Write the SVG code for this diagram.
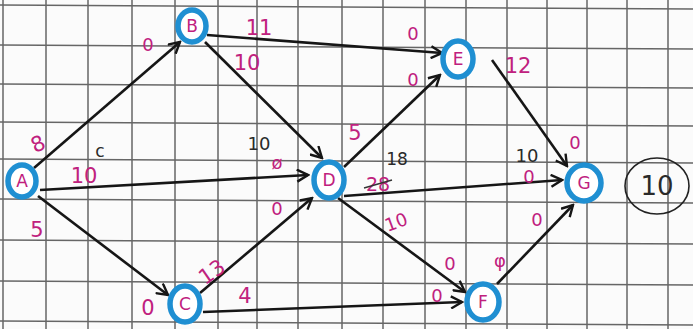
<svg xmlns="http://www.w3.org/2000/svg" width="693" height="329" viewBox="0 0 693 329">
<style>
.grid line{stroke:#666;stroke-width:1.5}
.edge{stroke:#161616;stroke-width:2.6;fill:none;marker-end:url(#ah)}
.node ellipse{fill:#fff;stroke:#1f8fd2;stroke-width:5.5}
.lt{font-family:"DejaVu Sans",sans-serif;font-size:17px;fill:#c0217e;text-anchor:middle;dominant-baseline:central}
.pk{font-family:"DejaVu Sans",sans-serif;font-size:21px;fill:#c0217e;text-anchor:middle;dominant-baseline:central}
.sm{font-size:18px}
.bk{font-family:"DejaVu Sans",sans-serif;font-size:19px;fill:#2a2a2a;text-anchor:middle;dominant-baseline:central}
</style>
<defs>
<marker id="ah" markerWidth="14" markerHeight="14" refX="12" refY="7" orient="auto" markerUnits="userSpaceOnUse">
<path d="M1,1 L12,7 L1,13" fill="none" stroke="#161616" stroke-width="2.4"/>
</marker>
</defs>
<rect width="693" height="329" fill="#fbfbfb"/>
<g class="grid">
<line x1="3" y1="0" x2="3" y2="329"/><line x1="46" y1="0" x2="46" y2="329"/><line x1="88" y1="0" x2="88" y2="329"/><line x1="132" y1="0" x2="132" y2="329"/><line x1="175" y1="0" x2="175" y2="329"/><line x1="218" y1="0" x2="218" y2="329"/><line x1="257" y1="0" x2="257" y2="329"/><line x1="298" y1="0" x2="298" y2="329"/><line x1="342" y1="0" x2="342" y2="329"/><line x1="383" y1="0" x2="383" y2="329"/><line x1="425" y1="0" x2="425" y2="329"/><line x1="466" y1="0" x2="466" y2="329"/><line x1="507" y1="0" x2="507" y2="329"/><line x1="547" y1="0" x2="547" y2="329"/><line x1="587" y1="0" x2="587" y2="329"/><line x1="627" y1="0" x2="627" y2="329"/><line x1="668" y1="0" x2="668" y2="329"/>
<line x1="0" y1="5" x2="693" y2="9"/><line x1="0" y1="45" x2="693" y2="49"/><line x1="0" y1="84" x2="693" y2="88"/><line x1="0" y1="122" x2="693" y2="126"/><line x1="0" y1="159" x2="693" y2="163"/><line x1="0" y1="199" x2="693" y2="203"/><line x1="0" y1="240" x2="693" y2="244"/><line x1="0" y1="281" x2="693" y2="285"/><line x1="0" y1="321" x2="693" y2="325"/>
</g>
<g id="connectors">
<line class="edge" x1="34" y1="168" x2="180" y2="42"/>
<line class="edge" x1="40" y1="190" x2="308" y2="175"/>
<line class="edge" x1="38" y1="196" x2="168" y2="295"/>
<line class="edge" x1="207" y1="35" x2="442" y2="53"/>
<line class="edge" x1="205" y1="42" x2="322" y2="158"/>
<line class="edge" x1="200" y1="293" x2="312" y2="198"/>
<line class="edge" x1="203" y1="312" x2="462" y2="302"/>
<line class="edge" x1="344" y1="167" x2="440" y2="75"/>
<line class="edge" x1="344" y1="196" x2="562" y2="180"/>
<line class="edge" x1="338" y1="198" x2="465" y2="292"/>
<line class="edge" x1="492" y1="60" x2="567" y2="166"/>
<line class="edge" x1="497" y1="284" x2="573" y2="205"/>
</g>
<g id="A" class="node"><ellipse cx="22" cy="181" rx="14" ry="16"/><text class="lt" x="22" y="181">A</text></g>
<g id="B" class="node"><ellipse cx="192" cy="26" rx="14" ry="16"/><text class="lt" x="192" y="26">B</text></g>
<g id="C" class="node"><ellipse cx="185" cy="304" rx="15" ry="18"/><text class="lt" x="185" y="304">C</text></g>
<g id="D" class="node"><ellipse cx="329" cy="180" rx="15" ry="18"/><text class="lt" x="329" y="180">D</text></g>
<g id="E" class="node"><ellipse cx="458" cy="59" rx="15" ry="18"/><text class="lt" x="458" y="59">E</text></g>
<g id="F" class="node"><ellipse cx="483" cy="302" rx="16" ry="18"/><text class="lt" x="483" y="302">F</text></g>
<g id="G" class="node"><ellipse cx="584" cy="183" rx="17" ry="18"/><text class="lt" x="584" y="183">G</text></g>
<g id="result"><ellipse cx="657" cy="186" rx="32" ry="28" fill="none" stroke="#222" stroke-width="1.6"/><text class="bk" x="657" y="186" style="font-size:26px">10</text></g>
<g id="labels">
<text class="pk" x="38" y="144" transform="rotate(-25 38 144)">8</text>
<text class="pk" x="37" y="230">5</text>
<text class="pk" x="84" y="176">10</text>
<text class="bk" x="100" y="151" style="font-size:17px">c</text>
<text class="pk sm" x="148" y="44">0</text>
<text class="pk" x="259" y="28">11</text>
<text class="pk" x="247" y="63">10</text>
<text class="bk" x="259" y="143" style="font-size:18px">10</text>
<text class="pk sm" x="277" y="162">ø</text>
<text class="pk" x="355" y="133">5</text>
<text class="bk" x="397" y="159" style="font-size:17px">18</text>
<text class="pk" x="378" y="184" style="font-size:19px">28</text>
<line x1="364" y1="188" x2="392" y2="180" stroke="#333" stroke-width="1.5"/>
<text class="pk sm" x="277" y="208">0</text>
<text class="pk" x="396" y="222" style="font-size:18px" transform="rotate(-20 396 222)">10</text>
<text class="pk sm" x="413" y="33">0</text>
<text class="pk sm" x="413" y="79">0</text>
<text class="pk" x="518" y="66">12</text>
<text class="pk sm" x="575" y="142">0</text>
<text class="bk" x="527" y="155" style="font-size:18px">10</text>
<text class="pk sm" x="529" y="176">0</text>
<text class="pk sm" x="537" y="219">0</text>
<text class="pk" x="212" y="272" transform="rotate(-35 212 272)">13</text>
<text class="pk" x="245" y="296">4</text>
<text class="pk" x="148" y="308">0</text>
<text class="pk sm" x="450" y="263">0</text>
<text class="pk sm" x="437" y="295">0</text>
<text class="pk sm" x="500" y="260">φ</text>
</g>
</svg>
